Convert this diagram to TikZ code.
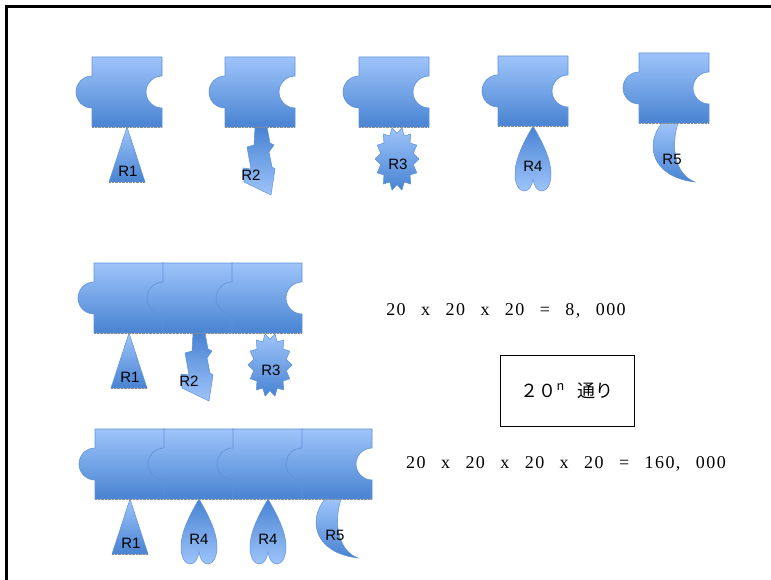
\documentclass[tikz,border=0pt]{standalone}
\usepackage{fontspec}
\newfontfamily\tagfont{Liberation Sans}
\newfontfamily\calcfont[WordSpace=2.6,LetterSpace=8]{Liberation Serif}
\newfontfamily\jpfont{Noto Sans CJK JP}

\definecolor{pzlight}{RGB}{158,196,250}
\definecolor{pzdark}{RGB}{72,131,210}
\definecolor{pzedge}{RGB}{95,145,218}

\tikzset{
  pzfill/.style={top color=pzlight,bottom color=pzdark,draw=pzedge,line width=0.6pt},
  tagup/.style={top color=pzlight,bottom color=pzdark,draw=pzedge,line width=0.5pt},
  tagdown/.style={top color=pzdark,bottom color=pzlight,draw=pzedge,line width=0.5pt},
  stipple/.style={draw=black!45,line width=0.9pt,dash pattern=on 0.7pt off 0.7pt},
  tag/.style={font=\tagfont\fontsize{15}{17}\selectfont,inner sep=0pt},
  prodtext/.style={font=\calcfont\fontsize{18}{20}\selectfont,inner sep=0pt},
  % puzzle piece, origin at its top left corner
  piece/.pic={
    \shadedraw[pzfill] (0,0) -- (70,0) -- (70,19)
      arc[start angle=270,end angle=90,radius=16] -- (70,70) -- (0,70) -- (0,51)
      arc[start angle=90,end angle=270,radius=16] -- cycle;
    \draw[stipple] (0,70) -- (70,70);
  },
  % residues, origin at the middle of the piece's lower edge
  tri/.pic={
    \shadedraw[tagup] (0,0) -- (18,55) -- (-18,55) -- cycle;
    \draw[stipple] (-18,55) -- (18,55);
    \node[tag] (-lbl) at (1,44) {#1};
  },
  bolt/.pic={
    \shadedraw[tagdown] (-5,0) -- (7,0) -- (10,16) -- (14,18) -- (9,25) -- (12,40)
      -- (15,42) -- (11,68) -- (-16,55) -- (-17,41) -- (-9,42) -- (-13,20)
      -- (-6,18) -- cycle;
    \node[tag] (-lbl) at (-9,48) {#1};
  },
  burst/.pic={
    \shadedraw[tagup] plot[samples=29,domain=0:28]
      ({3+22*ifthenelse(mod(round(\x),2)==0,1,0.76)*cos(\x*360/28)},
       {32+32*ifthenelse(mod(round(\x),2)==0,1,0.8)*sin(\x*360/28)}) -- cycle;
    \node[tag] (-lbl) at (4,37) {#1};
  },
  drop/.pic={
    \shadedraw[tagdown] (0,0) .. controls (-8,14) and (-18,32) .. (-18,48)
      .. controls (-18,58) and (-14,65) .. (-9,65)
      .. controls (-4,65) and (-1,60) .. (0,53)
      .. controls (1,60) and (4,65) .. (9,65)
      .. controls (14,65) and (18,58) .. (18,48)
      .. controls (18,32) and (8,14) .. (0,0) -- cycle;
    \node[tag] (-lbl) at (0,40) {#1};
  },
  moon/.pic={
    \shadedraw[tagup] (-12,0) .. controls (-30,22) and (-22,54) .. (21,59)
      .. controls (2,52) and (-4,26) .. (4,0) -- cycle;
    \node[tag] (-lbl) at (-2,36) {#1};
  }
}

\begin{document}
\begin{tikzpicture}[x=1pt,y=-1pt]
\useasboundingbox (0,0) rectangle (771,580);
\draw[line width=2.4pt] (6.5,580) -- (6.5,6.5) -- (771,6.5);

% one piece per residue
\pic (a1) at (127,127) {tri=R1};
\pic (a2) at (260,127) {bolt=R2};
\pic (a3) at (394,127) {burst=R3};
\pic (a4) at (533,126) {drop=R4};
\pic (a5) at (674,123) {moon=R5};
\foreach \px/\py in {92/57,225/57,359/57,498/56,639/53}
  \pic at (\px,\py) {piece};

% three pieces joined
\pic (b1) at (129,333) {tri=R1};
\pic (b2) at (198,333) {bolt=R2};
\pic (b3) at (267,333) {burst=R3};
\foreach \px in {94,163,232}
  \pic at (\px,263) {piece};

% four pieces joined
\pic (c1) at (130,499) {tri=R1};
\pic (c2) at (199,499) {drop=R4};
\pic (c3) at (268,499) {drop=R4};
\pic (c4) at (337,499) {moon=R5};
\foreach \px in {95,164,233,302}
  \pic at (\px,429) {piece};

\node[prodtext] (eqa) at (506,311) {20 x 20 x 20 = 8, 000};
\node[draw,line width=0.6pt,minimum width=134pt,minimum height=71pt,
  font=\jpfont\fontsize{18}{20}\selectfont] (ways) at (567,390.5)
  {２０\textsuperscript{n}\hspace{0.7em}通り};
\node[prodtext] (eqb) at (566,464) {20 x 20 x 20 x 20 = 160, 000};
\end{tikzpicture}
\end{document}
